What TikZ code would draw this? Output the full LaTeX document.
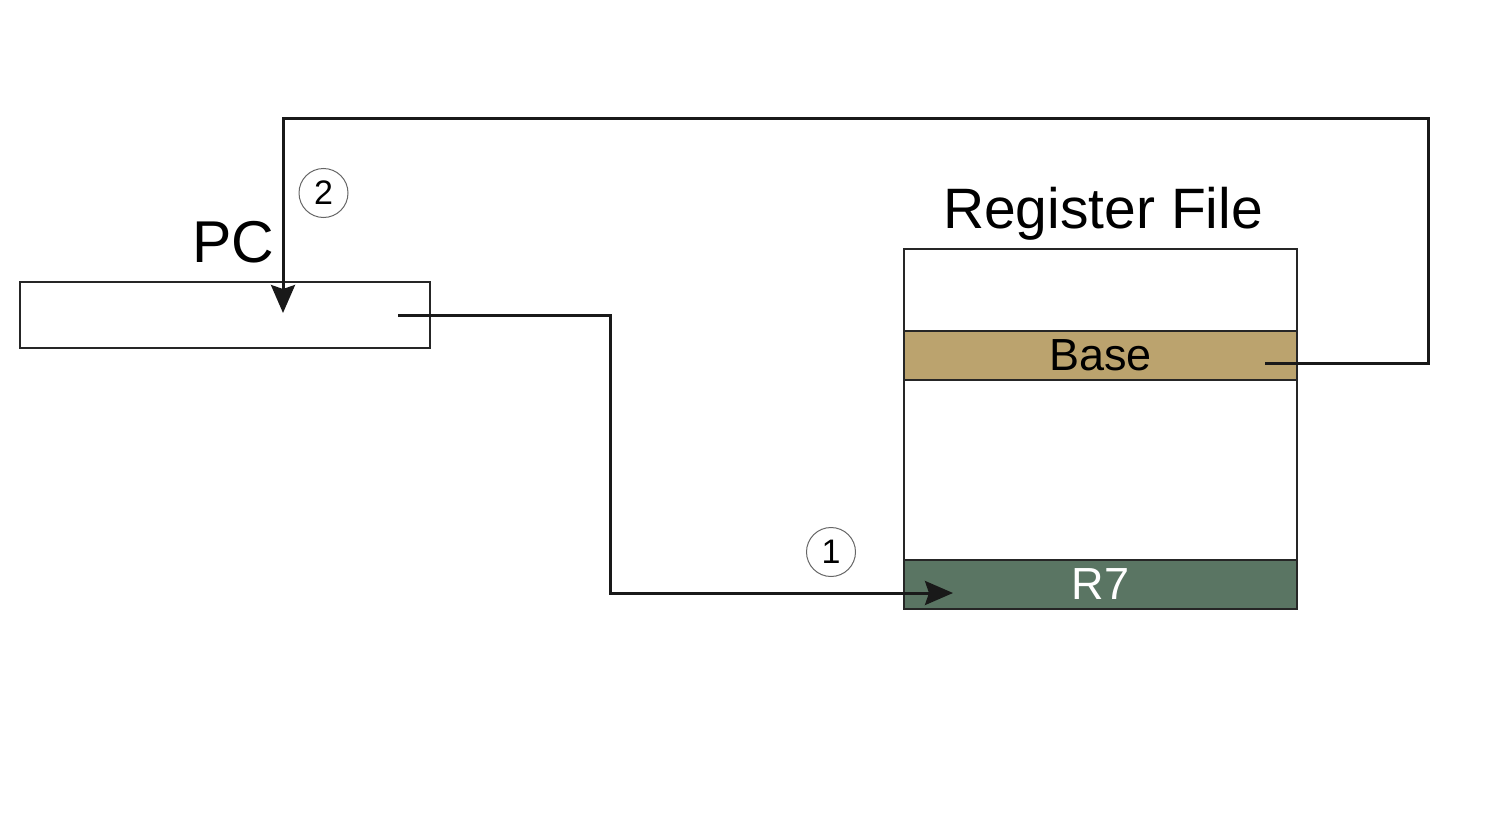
\documentclass[tikz,border=0pt]{standalone}
\usepackage{fontspec}
\setmainfont{Liberation Sans}
\usetikzlibrary{arrows.meta}
\definecolor{basetan}{HTML}{BBA36E}
\definecolor{regreen}{HTML}{5A7563}

\begin{document}
\begin{tikzpicture}[x=1pt,y=-1pt,
	box/.style={draw=black!85, line width=2.8pt, inner sep=0pt},
	band/.style={box, minimum width=393pt, minimum height=49pt},
	wire/.style={draw=black!90, line width=3pt, -{Stealth[length=28pt,width=24pt,inset=4pt]}},
	stepnum/.style={circle, draw=black!60, line width=1pt, minimum size=49pt, inner sep=0pt, font=\fontsize{34}{34}\selectfont}]
	\useasboundingbox (0,0) rectangle (1502,816);

	% PC register
	\node[box, minimum width=410pt, minimum height=66pt] (pc) at (225,315) {};
	\node[font=\fontsize{59}{59}\selectfont] (pclabel) at (233,242) {PC};

	% register file
	\node[box, minimum width=393pt, minimum height=360pt] (regfile) at (1100.5,429) {};
	\node[font=\fontsize{57}{57}\selectfont] (rflabel) at (1103,214) {Register File};
	\node[band, fill=basetan, font=\fontsize{45}{45}\selectfont] (base) at (1100.5,355.5) {Base};
	\node[band, fill=regreen, text=white, font=\fontsize{45}{45}\selectfont] (r7) at (1100.5,584.5) {R7};

	\coordinate (pcout) at (398,315);
	\coordinate (r7in) at (953,593);
	\coordinate (baseout) at (1265,363);
	\coordinate (pcin) at (283,313);

	% step 1: PC to R7
	\draw[wire] (pcout) -- ++(212,0) |- (r7in);
	% step 2: Base to PC
	\draw[wire] (baseout) -- ++(163,0) -- ++(0,-245) -| (pcin);

	\node[stepnum] (one) at (831,552) {1};
	\node[stepnum] (two) at (323.5,193) {2};
\end{tikzpicture}
\end{document}
